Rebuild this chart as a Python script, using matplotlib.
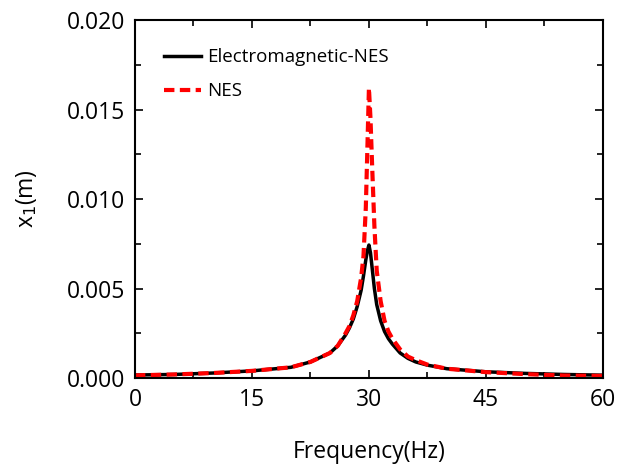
import numpy as np
import matplotlib.pyplot as plt
from matplotlib.ticker import MultipleLocator

plt.rcParams['font.family'] = ['Open Sans', 'DejaVu Sans']

# Frequency response of the primary mass
freq = [0, 5, 10, 15, 20, 22.5, 24, 25, 26, 27, 27.5, 28, 28.5, 29, 29.3, 29.6,
        29.8, 30, 30.2, 30.4, 30.7, 31, 31.5, 32, 32.5, 33, 34, 35, 36, 37.5,
        40, 45, 50, 55, 60]
x1_em_nes = [0.00017, 0.0002, 0.00028, 0.0004, 0.0006, 0.0009, 0.0012, 0.0014,
             0.0018, 0.0024, 0.0028, 0.0033, 0.0040, 0.0049, 0.0057, 0.0066,
             0.0071, 0.00743, 0.0070, 0.0062, 0.0050, 0.0041, 0.0032, 0.0026,
             0.0022, 0.0019, 0.0014, 0.0011, 0.0009, 0.00072,
             0.00052, 0.00035, 0.00026, 0.0002, 0.00016]
x1_nes = [0.00015, 0.0002, 0.00028, 0.0004, 0.0006, 0.0009, 0.0012, 0.0014,
          0.0018, 0.0025, 0.0029, 0.0035, 0.0043, 0.0056, 0.0068, 0.0095,
          0.0128, 0.0162, 0.0145, 0.0120, 0.0085, 0.0060, 0.0043, 0.0032,
          0.0026, 0.0022, 0.0016, 0.0012, 0.0010, 0.00075,
          0.00052, 0.00033, 0.00022, 0.00014, 0.00012]

fig = plt.figure(figsize=(6.19, 4.65), dpi=100)
ax = fig.add_axes([0.218, 0.187, 0.756, 0.770])

ax.plot(freq, x1_em_nes, color='black', linewidth=2.5, label='Electromagnetic-NES')
ax.plot(freq, x1_nes, color='red', linewidth=3, linestyle=(0, (2.5, 1.3)), label='NES')

ax.set_xlim(0, 60)
ax.set_ylim(0, 0.020)
ax.xaxis.set_major_locator(MultipleLocator(15))
ax.xaxis.set_minor_locator(MultipleLocator(7.5))
ax.yaxis.set_major_locator(MultipleLocator(0.005))
ax.yaxis.set_minor_locator(MultipleLocator(0.0025))
ax.yaxis.set_major_formatter(plt.FormatStrFormatter('%.3f'))
ax.tick_params(which='both', direction='in', top=True, right=True, width=1.2)
ax.tick_params(which='major', length=6, labelsize=16.5, pad=7)
ax.tick_params(which='minor', length=4)
for s in ax.spines.values():
    s.set_linewidth(1.5)

ax.set_xlabel('Frequency(Hz)', fontsize=16.5, labelpad=20)
ax.set_ylabel('x$_1$(m)', fontsize=16.5, labelpad=20)

ax.legend(loc='upper left', frameon=False, fontsize=13.5, handlelength=2.0,
          handletextpad=0.35, labelspacing=0.85, bbox_to_anchor=(0.025, 0.968))

plt.savefig('out.png')
